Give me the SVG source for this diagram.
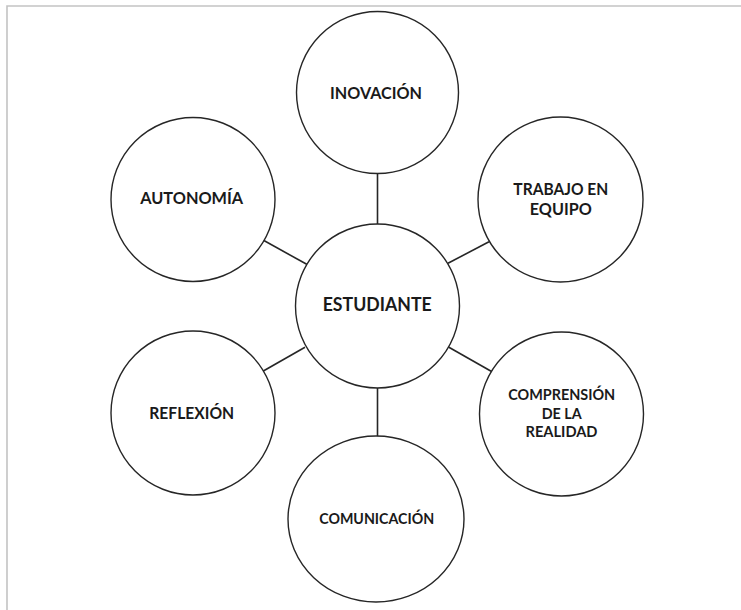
<svg xmlns="http://www.w3.org/2000/svg" width="741" height="610" viewBox="0 0 741 610">
  <style>
    .frame { fill: none; stroke: #c3c3c3; stroke-width: 1.6; }
    .node { fill: #ffffff; stroke: #262626; stroke-width: 1.4; }
    .link { stroke: #262626; stroke-width: 1.6; fill: none; }
    .lbl { font-family: "Lato", "Open Sans", "Liberation Sans", sans-serif; font-weight: bold; fill: #1a1a1a; text-anchor: middle; }
    .s16 { font-size: 16.2px; }
    .s15 { font-size: 15.3px; }
    .s17 { font-size: 18px; }
  </style>

  <rect width="741" height="610" fill="#ffffff"/>
  <!-- page frame: top and left edges -->
  <path class="frame" d="M7 610 V6 H741"/>

  <!-- spokes from the central node -->
  <g id="connectors">
    <line class="link" x1="377.5" y1="173.5" x2="377.5" y2="224"/>
    <line class="link" x1="489" y1="241.7" x2="448" y2="263.3"/>
    <line class="link" x1="448" y1="346.7" x2="492" y2="371.7"/>
    <line class="link" x1="377.5" y1="388" x2="377.5" y2="436"/>
    <line class="link" x1="262" y1="371.7" x2="305" y2="347.3"/>
    <line class="link" x1="263" y1="240" x2="306.7" y2="264.3"/>
  </g>

  <g id="estudiante">
    <circle class="node" cx="377.5" cy="306" r="82"/>
    <text class="lbl s17" x="377.2" y="311" textLength="109" lengthAdjust="spacingAndGlyphs">ESTUDIANTE</text>
  </g>

  <g id="inovacion">
    <circle class="node" cx="377.5" cy="92.5" r="81"/>
    <text class="lbl s16" x="376" y="99" textLength="92" lengthAdjust="spacingAndGlyphs">INOVACIÓN</text>
  </g>

  <g id="trabajo-en-equipo">
    <circle class="node" cx="560.5" cy="199.5" r="82.5"/>
    <text class="lbl s16" x="560.8" y="195" textLength="95" lengthAdjust="spacingAndGlyphs">TRABAJO EN</text>
    <text class="lbl s16" x="560.8" y="214.5" textLength="62" lengthAdjust="spacingAndGlyphs">EQUIPO</text>
  </g>

  <g id="comprension">
    <circle class="node" cx="561.5" cy="414" r="82"/>
    <text class="lbl s15" x="561.7" y="400" textLength="107" lengthAdjust="spacingAndGlyphs">COMPRENSIÓN</text>
    <text class="lbl s15" x="561.7" y="418.5" textLength="40" lengthAdjust="spacingAndGlyphs">DE LA</text>
    <text class="lbl s15" x="561.5" y="437" textLength="72" lengthAdjust="spacingAndGlyphs">REALIDAD</text>
  </g>

  <g id="comunicacion">
    <ellipse class="node" cx="376" cy="519" rx="88" ry="83"/>
    <text class="lbl s15" x="376.7" y="524" textLength="115" lengthAdjust="spacingAndGlyphs">COMUNICACIÓN</text>
  </g>

  <g id="reflexion">
    <circle class="node" cx="193" cy="413" r="82"/>
    <text class="lbl s16" x="191.7" y="418.5" textLength="85" lengthAdjust="spacingAndGlyphs">REFLEXIÓN</text>
  </g>

  <g id="autonomia">
    <circle class="node" cx="193" cy="199.5" r="82"/>
    <text class="lbl s16" x="191.7" y="204" textLength="103" lengthAdjust="spacingAndGlyphs">AUTONOMÍA</text>
  </g>
</svg>
